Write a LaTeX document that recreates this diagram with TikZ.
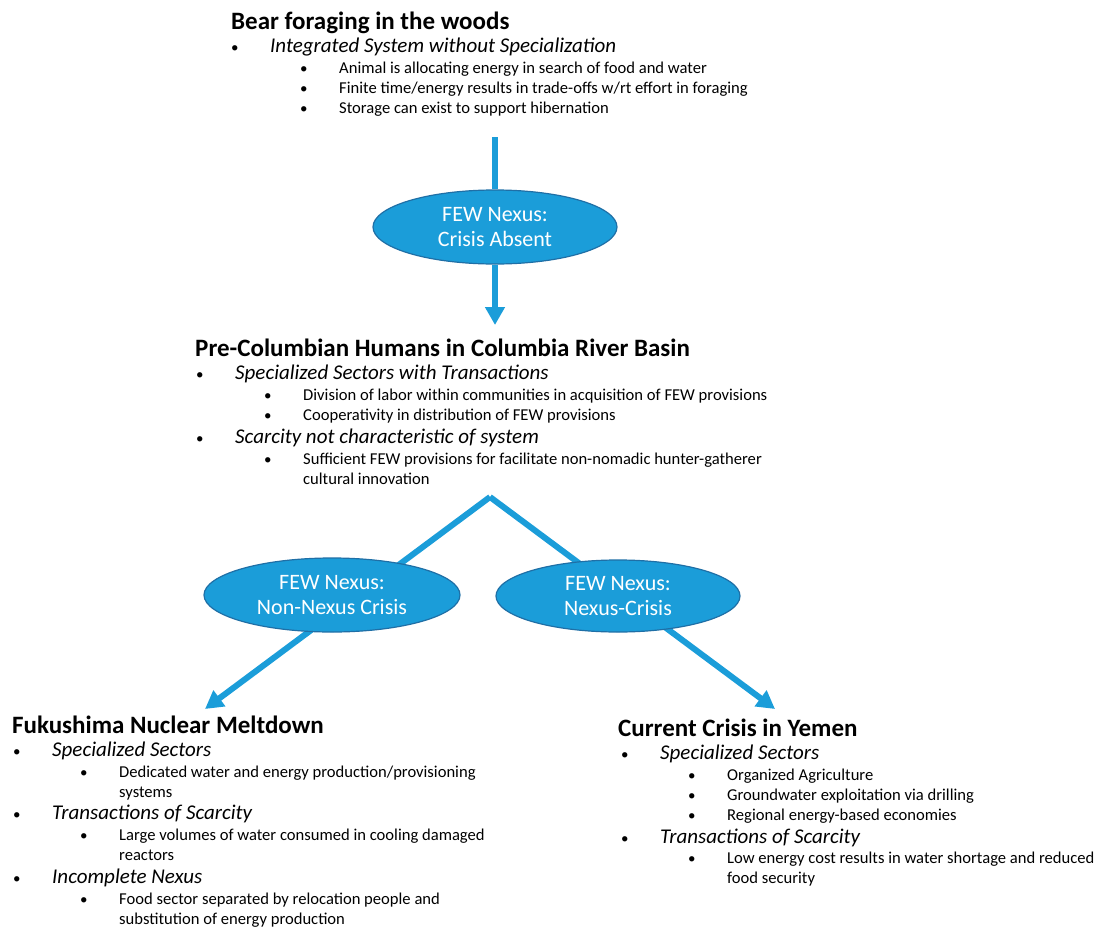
\documentclass[tikz,border=0pt]{standalone}
\usepackage{fontspec}
\setmainfont{Carlito}
\usetikzlibrary{shapes.geometric,arrows.meta}
\definecolor{nexus}{HTML}{1B9DD9}
\definecolor{nexusrim}{HTML}{1F6FA6}
\newcommand{\itm}[1]{\makebox[39pt][l]{\upshape\fontsize{15}{20}\selectfont\textbullet}\begin{tabular}[t]{@{}l@{}}#1\end{tabular}}

\begin{document}
\begin{tikzpicture}[x=1pt,y=-1pt,
    head/.style={anchor=base west,inner sep=0,font=\fontsize{25}{30}\selectfont\bfseries},
    lvlone/.style={anchor=base west,inner sep=0,font=\fontsize{21}{25}\selectfont\itshape},
    lvltwo/.style={anchor=base west,inner sep=0,font=\fontsize{16.6}{20}\selectfont},
    nexusbox/.style={ellipse,fill=nexus,draw=nexusrim,line width=1.2pt,text=white,
      inner sep=0,align=center,font=\fontsize{22}{25}\selectfont},
    link/.style={draw=nexus,line width=6pt},
    flow/.style={link,-{Triangle[width=19pt,length=18pt]}}]
    \useasboundingbox (0,0) rectangle (1101,929);

    % bear
    \node[head] (bear) at (231,29) {Bear foraging in the woods};
    \node[lvlone] (bearone) at (231,52) {\itm{Integrated System without Specialization}};
    \node[lvltwo] (beara) at (300,73) {\itm{Animal is allocating energy in search of food and water}};
    \node[lvltwo] (bearb) at (300,93) {\itm{Finite time/energy results in trade-offs w/rt effort in foraging}};
    \node[lvltwo] (bearc) at (300,113) {\itm{Storage can exist to support hibernation}};

    % pre-columbian humans
    \node[head] (human) at (195,356) {Pre-Columbian Humans in Columbia River Basin};
    \node[lvlone] (humanone) at (196,379) {\itm{Specialized Sectors with Transactions}};
    \node[lvltwo] (humana) at (264,400) {\itm{Division of labor within communities in acquisition of FEW provisions}};
    \node[lvltwo] (humanb) at (264,420) {\itm{Cooperativity in distribution of FEW provisions}};
    \node[lvlone] (humantwo) at (196,443) {\itm{Scarcity not characteristic of system}};
    \node[lvltwo] (humanc) at (264,464) {\itm{Sufficient FEW provisions for facilitate non-nomadic hunter-gatherer\\cultural innovation}};

    % fukushima
    \node[head] (fuku) at (12,733) {Fukushima Nuclear Meltdown};
    \node[lvlone] (fukuone) at (13,756) {\itm{Specialized Sectors}};
    \node[lvltwo] (fukua) at (80,777) {\itm{Dedicated water and energy production/provisioning\\systems}};
    \node[lvlone] (fukutwo) at (13,819) {\itm{Transactions of Scarcity}};
    \node[lvltwo] (fukub) at (80,840) {\itm{Large volumes of water consumed in cooling damaged\\reactors}};
    \node[lvlone] (fukuthree) at (13,883) {\itm{Incomplete Nexus}};
    \node[lvltwo] (fukuc) at (80,904) {\itm{Food sector separated by relocation people and\\substitution of energy production}};

    % yemen
    \node[head] (yemen) at (618,736) {Current Crisis in Yemen};
    \node[lvlone] (yemenone) at (621,759) {\itm{Specialized Sectors}};
    \node[lvltwo] (yemena) at (688,780) {\itm{Organized Agriculture}};
    \node[lvltwo] (yemenb) at (688,800) {\itm{Groundwater exploitation via drilling}};
    \node[lvltwo] (yemenc) at (688,820) {\itm{Regional energy-based economies}};
    \node[lvlone] (yementwo) at (621,843) {\itm{Transactions of Scarcity}};
    \node[lvltwo] (yemend) at (688,863) {\itm{Low energy cost results in water shortage and reduced\\food security}};

    % arrows
    \coordinate (beartail) at (495,137);
    \coordinate (humantip) at (495,325);
    \coordinate (fork) at (490,497);
    \coordinate (fukutip) at (205,709);
    \coordinate (yementip) at (775,709);
    \draw[flow] (fork) -- (fukutip);
    \draw[flow] (fork) -- (yementip);

    \node[nexusbox,minimum width=244pt,minimum height=74pt] (absent) at (495,227) {FEW Nexus:\\Crisis Absent};
    \node[nexusbox,minimum width=256pt,minimum height=74pt] (nonnexus) at (332,595) {FEW Nexus:\\Non-Nexus Crisis};
    \node[nexusbox,minimum width=244pt,minimum height=72pt] (nexuscrisis) at (618,596) {FEW Nexus:\\Nexus-Crisis};
    \draw[link] (beartail) -- (absent);
    \draw[flow] (absent) -- (humantip);
\end{tikzpicture}
\end{document}
